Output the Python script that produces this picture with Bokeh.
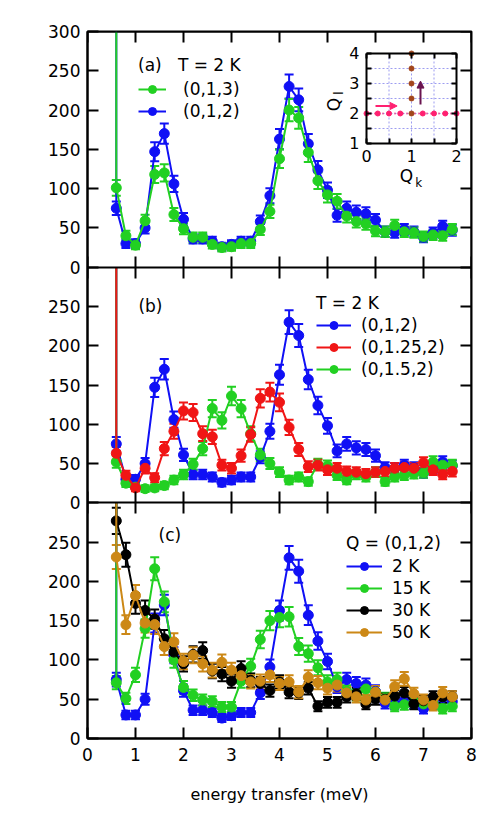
import numpy as np
from bokeh.plotting import figure
from bokeh.models import (Range1d, LinearAxis, FixedTicker, CustomJSTickFormatter,
                          ColumnDataSource, Whisker, TeeHead, Legend, LegendItem,
                          Label, Arrow, NormalHead)
from bokeh.embed import file_html
from bokeh.resources import INLINE

FONT = "DejaVu Sans"

# ---------------- data ----------------
E = [0.6, 0.8, 1.0, 1.2, 1.4, 1.6, 1.8, 2.0, 2.2, 2.4, 2.6, 2.8, 3.0, 3.2, 3.4, 3.6,
     3.8, 4.0, 4.2, 4.4, 4.6, 4.8, 5.0, 5.2, 5.4, 5.6, 5.8, 6.0, 6.2, 6.4, 6.6, 6.8,
     7.0, 7.2, 7.4, 7.6]

# (0,1,2) at 2 K  (panels a, b, c)
q012_2K = [75, 30, 30, 50, 147, 170, 106, 61, 36, 36, 33, 26, 29, 33, 33, 58,
           91, 163, 230, 213, 157, 124, 98, 66, 75, 70, 68, 60, 45, 44, 48, 45,
           38, 44, 52, 47]
# (0,1,3) at 2 K  (panel a)
q013_2K = [101, 40, 28, 59, 118, 120, 67, 49, 38, 38, 29, 25, 26, 30, 30, 48,
           71, 138, 200, 190, 146, 110, 92, 84, 65, 58, 55, 46, 45, 53, 45, 44,
           39, 41, 40, 48]
# (0,1.25,2) at 2 K  (panel b)
q0125_2K = [63, 35, 19, 44, 32, 69, 91, 117, 115, 88, 84, 48, 44, 60, 87, 133,
            141, 128, 96, 68, 46, 48, 42, 44, 40, 39, 37, 39, 40, 44, 45, 44,
            51, 42, 36, 40]
# (0,1.5,2) at 2 K  (panel b)
q015_2K = [52, 25, 20, 18, 19, 22, 29, 36, 49, 69, 120, 105, 136, 120, 88, 61,
           50, 39, 29, 33, 27, 49, 47, 35, 29, 36, 33, 39, 27, 33, 35, 37,
           38, 52, 48, 48]
# (0,1,2) at 15, 30, 50 K  (panel c)
q012_15K = [71, 51, 81, 140, 216, 174, 100, 65, 55, 49, 47, 40, 40, 73, 92, 126,
            150, 154, 155, 117, 108, 90, 72, 75, 60, 56, 63, 59, 51, 41, 43, 47,
            44, 45, 38, 41]
q012_30K = [277, 234, 172, 163, 152, 127, 110, 95, 107, 112, 86, 82, 73, 89, 74, 70,
            61, 72, 59, 58, 64, 41, 46, 46, 53, 57, 44, 50, 50, 54, 58, 44,
            48, 53, 53, 53]
q012_50K = [231, 145, 182, 147, 145, 117, 123, 98, 106, 95, 87, 97, 87, 80, 72, 73,
            81, 70, 72, 59, 78, 71, 64, 68, 58, 53, 49, 59, 49, 66, 76, 57,
            49, 42, 58, 53]

X_TICKS = [0, 1, 2, 3, 4, 5, 6, 7, 8]
Y_TICKS = [0, 50, 100, 150, 200, 250, 300]

# inset (Q_k, Q_l) map
INSET_QK = [0, 2]
INSET_QL = [1, 4]
PINK_QK = [0, 0.25, 0.5, 0.75, 1.25, 1.5, 1.75, 2.0]
PINK_QL = [2, 2, 2, 2, 2, 2, 2, 2]
BROWN_QK = [1, 1, 1, 1, 1]
BROWN_QL = [2, 2.5, 3, 3.5, 4]

BLUE = "#1010f5"
GREEN = "#22d022"
RED = "#f01515"
BLACK = "#000000"
ORANGE = "#cc8816"
PINK = "#ff2070"
BROWN = "#a2461c"
PURPLE = "#6a1450"

YMAX = 300
STACK = {"a": 600, "b": 300, "default": 0}

# ---------------- figure ----------------
p = figure(width=500, height=813, x_range=Range1d(0, 8), y_range=Range1d(0, 3 * YMAX),
           output_backend="svg", toolbar_location=None,
           x_axis_location=None, y_axis_location=None,
           min_border_left=87, min_border_right=29, min_border_top=31, min_border_bottom=75)
p.background_fill_color = "white"
p.border_fill_color = "white"
p.outline_line_color = "black"
p.outline_line_width = 2
p.xgrid.grid_line_color = None
p.ygrid.grid_line_color = None

p.extra_y_ranges = {
    "a": Range1d(-STACK["a"], 3 * YMAX - STACK["a"]),
    "b": Range1d(-STACK["b"], 3 * YMAX - STACK["b"]),
    "ql": Range1d(-18.8333, 4.7333),
}
p.extra_x_ranges = {"qk": Range1d(-6.2, 2.3333)}


def style_axis(ax, tin, tout, labels=True, size="17px"):
    ax.axis_line_color = "black"
    ax.axis_line_width = 2
    ax.major_tick_line_color = "black"
    ax.major_tick_line_width = 2
    ax.major_tick_in = tin
    ax.major_tick_out = tout
    ax.minor_tick_line_color = None
    ax.major_label_text_font = FONT
    ax.major_label_text_font_size = size
    ax.major_label_text_color = "black" if labels else None


all_y = sorted(set(t + off for off in STACK.values() for t in Y_TICKS))
fmt = CustomJSTickFormatter(code="const t = Math.round(tick); return String(t >= 900 ? 300 : t % 300);")

ax_l = LinearAxis(ticker=FixedTicker(ticks=all_y), formatter=fmt)
style_axis(ax_l, 11, 0)
ax_l.major_label_standoff = 7
p.add_layout(ax_l, "left")

ax_r = LinearAxis(ticker=FixedTicker(ticks=all_y), fixed_location=8)
style_axis(ax_r, 11, 0, labels=False)
p.add_layout(ax_r, "right")

ax_b = LinearAxis(ticker=FixedTicker(ticks=X_TICKS), axis_label="energy transfer (meV)")
style_axis(ax_b, 11, 0)
ax_b.major_label_standoff = 9
ax_b.axis_label_standoff = 21
ax_b.axis_label_text_font = FONT
ax_b.axis_label_text_font_size = "16px"
ax_b.axis_label_text_font_style = "normal"
ax_b.axis_label_text_color = "black"
p.add_layout(ax_b, "below")

ax_t = LinearAxis(ticker=FixedTicker(ticks=X_TICKS), fixed_location=3 * YMAX)
style_axis(ax_t, 11, 0, labels=False)
p.add_layout(ax_t, "above")

for loc in (STACK["b"], STACK["a"]):
    ax_m = LinearAxis(ticker=FixedTicker(ticks=X_TICKS), fixed_location=loc)
    style_axis(ax_m, 11, 11, labels=False)
    p.add_layout(ax_m, "below")


def add_series(yname, y, color):
    y = np.asarray(y, dtype=float)
    err = np.sqrt(y)
    src = ColumnDataSource(dict(x=E, y=y, lo=y - err, hi=y + err))
    p.add_layout(Whisker(source=src, base="x", upper="hi", lower="lo", y_range_name=yname,
                         line_color=color, line_width=2,
                         upper_head=TeeHead(size=9, line_color=color, line_width=2),
                         lower_head=TeeHead(size=9, line_color=color, line_width=2)))
    # elastic line running off the top of the panel
    p.segment(x0=[E[0]], y0=[y[0]], x1=[E[0]], y1=[YMAX], line_color=color,
              line_width=2, y_range_name=yname)
    ln = p.line("x", "y", source=src, line_color=color, line_width=2, y_range_name=yname)
    sc = p.scatter("x", "y", source=src, size=10, fill_color=color, line_color=color,
                   y_range_name=yname)
    return ln, sc


panels = {
    "a": dict(draw=[("(0,1,2)", q012_2K, BLUE), ("(0,1,3)", q013_2K, GREEN)],
              order=["(0,1,3)", "(0,1,2)"], title="(a)   T = 2 K",
              loc=(51, 617), gw=28, ls=17, sp=2, ts=4),
    "b": dict(draw=[("(0,1,2)", q012_2K, BLUE), ("(0,1.5,2)", q015_2K, GREEN),
                    ("(0,1.25,2)", q0125_2K, RED)],
              order=["(0,1,2)", "(0,1.25,2)", "(0,1.5,2)"], title="T = 2 K",
              loc=(229, 359), gw=35, ls=10, sp=2, ts=2),
    "default": dict(draw=[("2 K", q012_2K, BLUE), ("15 K", q012_15K, GREEN),
                          ("30 K", q012_30K, BLACK), ("50 K", q012_50K, ORANGE)],
                    order=["2 K", "15 K", "30 K", "50 K"], title="Q = (0,1,2)",
                    loc=(259, 96), gw=36, ls=10, sp=2, ts=3),
}

for yname, cfg in panels.items():
    rends = {}
    for lab, vals, col in cfg["draw"]:
        rends[lab] = add_series(yname, vals, col)
    items = [LegendItem(label=lab, renderers=list(rends[lab])) for lab in cfg["order"]]
    leg = Legend(items=items, location=cfg["loc"], title=cfg["title"],
                 padding=0, margin=0, spacing=cfg["sp"], glyph_width=cfg["gw"],
                 glyph_height=20, label_height=20, label_standoff=cfg["ls"],
                 title_standoff=cfg["ts"], border_line_color=None,
                 background_fill_alpha=0,
                 label_text_font=FONT, label_text_font_size="17px",
                 label_text_color="black",
                 title_text_font=FONT, title_text_font_size="17px",
                 title_text_font_style="normal", title_text_color="black")
    p.add_layout(leg)
    p.add_layout(Label(x=-1.33, y=YMAX / 2, y_range_name=yname, text="counts", angle=np.pi / 2,
                       text_align="center", text_baseline="middle", text_color="black",
                       text_font=FONT, text_font_size="16px"))

p.add_layout(Label(x=1.06, y=250, y_range_name="b", text="(b)", text_align="left",
                   text_baseline="middle", text_color="black", text_font=FONT,
                   text_font_size="17px"))
p.add_layout(Label(x=1.48, y=259, y_range_name="default", text="(c)", text_align="left",
                   text_baseline="middle", text_color="black", text_font=FONT,
                   text_font_size="17px"))

# ---------------- inset ----------------
p.quad(left=[INSET_QK[0]], right=[INSET_QK[1]], bottom=[INSET_QL[0]], top=[INSET_QL[1]],
       x_range_name="qk", y_range_name="ql", fill_color="white", line_color=None)
gx = [0.5, 1.0, 1.5]
gy = [1.5, 2.0, 2.5, 3.0, 3.5]
p.segment(x0=gx, y0=[INSET_QL[0]] * 3, x1=gx, y1=[INSET_QL[1]] * 3, x_range_name="qk",
          y_range_name="ql", line_color="#9c9cf0", line_width=1, line_dash="2 2")
p.segment(x0=[INSET_QK[0]] * 5, y0=gy, x1=[INSET_QK[1]] * 5, y1=gy, x_range_name="qk",
          y_range_name="ql", line_color="#9c9cf0", line_width=1, line_dash="2 2")
p.line(x=INSET_QK, y=[2, 2], x_range_name="qk", y_range_name="ql", line_color=PINK,
       line_width=2, line_dash="1 3")
p.scatter(PINK_QK, PINK_QL, x_range_name="qk", y_range_name="ql", size=5, color=PINK)
p.scatter(BROWN_QK, BROWN_QL, x_range_name="qk", y_range_name="ql", size=5, color=BROWN)

p.add_layout(Arrow(x_start=0.2, y_start=2.25, x_end=0.68, y_end=2.25, x_range_name="qk",
                   y_range_name="ql", line_color=PINK, line_width=2,
                   end=NormalHead(size=7, fill_color=PINK, line_color=PINK)))
p.add_layout(Arrow(x_start=1.2, y_start=2.3, x_end=1.2, y_end=3.08, x_range_name="qk",
                   y_range_name="ql", line_color=PURPLE, line_width=2,
                   end=NormalHead(size=7, fill_color=PURPLE, line_color=PURPLE)))

for side, fl, ticks, minor, show in [("below", 1, [0, 1, 2], [0.5, 1.5], True),
                                     ("above", 4, [0, 1, 2], [0.5, 1.5], False),
                                     ("left", 0, [1, 2, 3, 4], [1.5, 2.5, 3.5], True),
                                     ("right", 2, [1, 2, 3, 4], [1.5, 2.5, 3.5], False)]:
    bnd = tuple(INSET_QK) if side in ("below", "above") else tuple(INSET_QL)
    ax = LinearAxis(x_range_name="qk", y_range_name="ql", fixed_location=fl, bounds=bnd,
                    ticker=FixedTicker(ticks=ticks, minor_ticks=minor))
    style_axis(ax, 5, 0, labels=show, size="16px")
    ax.minor_tick_line_color = "black"
    ax.minor_tick_line_width = 2
    ax.minor_tick_in = 5
    ax.minor_tick_out = 0
    ax.major_label_standoff = 7
    p.add_layout(ax, side)

p.add_layout(Label(x=0.89, y=-0.07, x_range_name="qk", y_range_name="ql", text="Q",
                   text_align="center", text_baseline="middle", text_color="black",
                   text_font=FONT, text_font_size="17px"))
p.add_layout(Label(x=1.16, y=-0.33, x_range_name="qk", y_range_name="ql", text="k",
                   text_align="center", text_baseline="middle", text_color="black",
                   text_font=FONT, text_font_size="12px"))
p.add_layout(Label(x=-0.73, y=2.3, x_range_name="qk", y_range_name="ql", text="Q",
                   angle=np.pi / 2, text_align="center", text_baseline="middle",
                   text_color="black", text_font=FONT, text_font_size="17px"))
p.add_layout(Label(x=-0.62, y=2.68, x_range_name="qk", y_range_name="ql", text="l",
                   angle=np.pi / 2, text_align="center", text_baseline="middle",
                   text_color="black", text_font=FONT, text_font_size="12px"))

open("out.html", "w").write(file_html(p, INLINE))
